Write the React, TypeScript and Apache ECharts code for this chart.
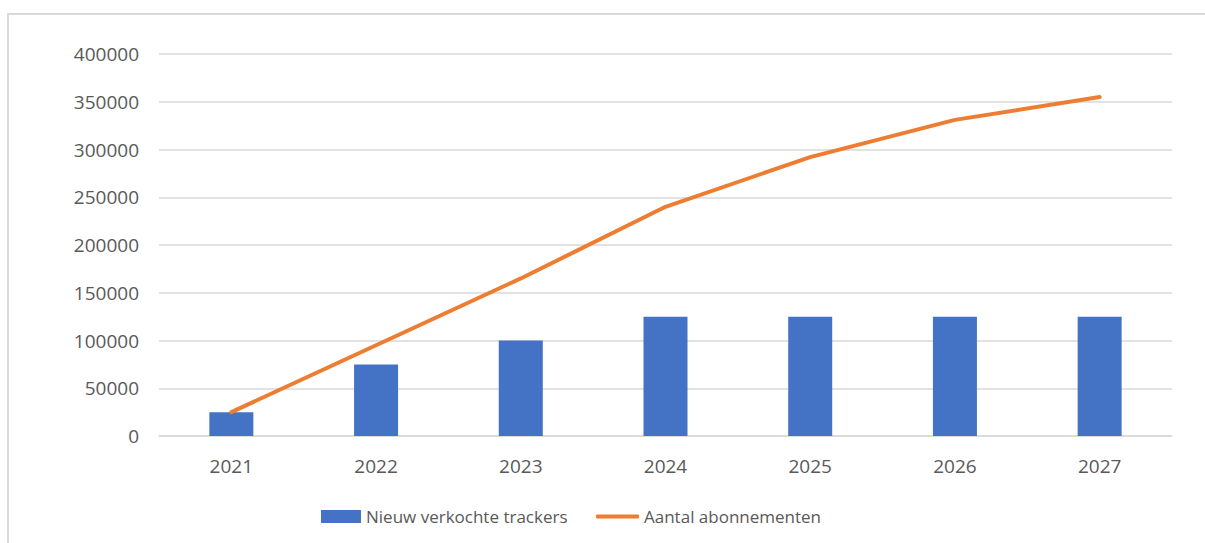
import React, { useEffect, useRef } from "react";
import * as echarts from "echarts";

const years = ["2021", "2022", "2023", "2024", "2025", "2026", "2027"];
const newTrackers = [25000, 75000, 100000, 125000, 125000, 125000, 125000];
const subscriptions = [25000, 95000, 165000, 240000, 292000, 331000, 355000];
const seriesNames = ["Nieuw verkochte trackers", "Aantal abonnementen"];

const FONT = "'Open Sans', sans-serif";
const TEXT = "#595959";
const GRID = "#D9D9D9";
const BLUE = "#4472C4";
const ORANGE = "#ED7D31";

export default function App() {
  const ref = useRef<HTMLDivElement>(null);
  useEffect(() => {
    if (!ref.current) return;
    const chart = echarts.init(ref.current, undefined, { renderer: "svg" });
    const legendText = { fontFamily: FONT, fontSize: 17, color: TEXT };
    chart.setOption({
      animation: false,
      backgroundColor: "#ffffff",
      graphic: [
        {
          type: "rect",
          shape: { x: 8, y: 14, width: 1220, height: 600 },
          style: { fill: "none", stroke: GRID, lineWidth: 2 },
          silent: true,
        },
      ],
      grid: { left: 159, right: 33, top: 54, bottom: 107 },
      legend: [
        {
          left: 316,
          top: 503,
          itemWidth: 40,
          itemHeight: 13,
          textStyle: legendText,
          data: [{ name: seriesNames[0], icon: "rect" }],
        },
        {
          left: 591,
          top: 503,
          itemWidth: 43,
          itemHeight: 4,
          textStyle: legendText,
          data: [{ name: seriesNames[1], icon: "roundRect", itemStyle: { color: ORANGE } }],
        },
      ],
      xAxis: {
        type: "category",
        data: years,
        axisTick: { show: false },
        axisLine: { lineStyle: { color: GRID, width: 1.5 } },
        axisLabel: { fontFamily: FONT, fontSize: 19, color: TEXT, margin: 20 },
      },
      yAxis: {
        type: "value",
        min: 0,
        max: 400000,
        interval: 50000,
        axisLabel: {
          fontFamily: FONT,
          fontSize: 19,
          color: TEXT,
          margin: 20,
          formatter: (v: number) => String(v),
        },
        splitLine: { lineStyle: { color: GRID, width: 1.5 } },
        axisLine: { show: false },
        axisTick: { show: false },
      },
      series: [
        {
          name: seriesNames[0],
          type: "bar",
          data: newTrackers,
          barWidth: 44,
          itemStyle: { color: BLUE },
        },
        {
          name: seriesNames[1],
          type: "line",
          data: subscriptions,
          symbol: "none",
          lineStyle: { color: ORANGE, width: 4, cap: "round", join: "round" },
          itemStyle: { color: ORANGE },
        },
      ],
    });
    return () => chart.dispose();
  }, []);
  return (
    <div
      ref={ref}
      style={{ position: "fixed", left: 0, top: 0, width: 1205, height: 543 }}
    />
  );
}
